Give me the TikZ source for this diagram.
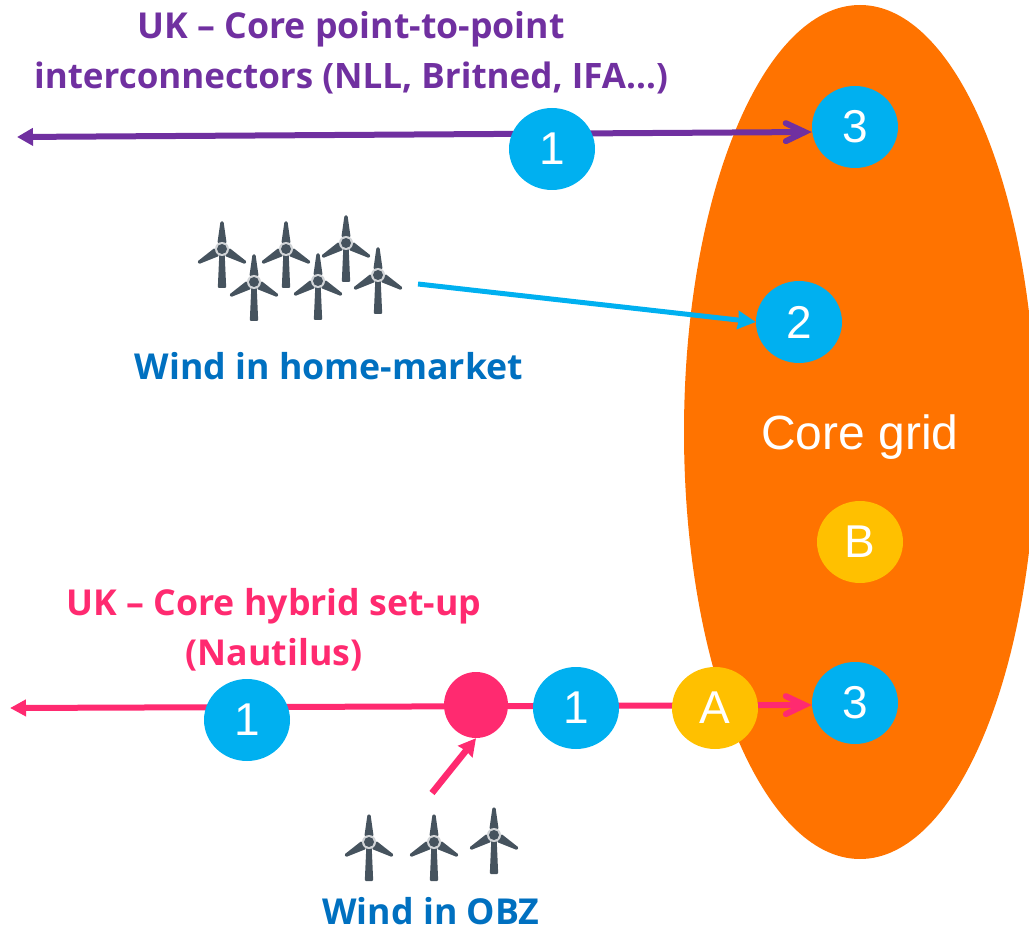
\documentclass[tikz,border=0pt]{standalone}
\usepackage{fontspec}
\setmainfont{Liberation Sans}
\newfontfamily\headfont{Open Sans}
\usetikzlibrary{arrows.meta,shapes.geometric}
\definecolor{cOrange}{HTML}{FF7300}
\definecolor{cBlue}{HTML}{00B0F0}
\definecolor{cGold}{HTML}{FFC000}
\definecolor{cPink}{HTML}{FF2A70}
\definecolor{cPurple}{HTML}{7030A0}
\definecolor{cHead}{HTML}{0070C0}
\definecolor{cTurb}{HTML}{46535E}
\tikzset{
  x=1pt,y=-1pt,
  badge/.style={ellipse,inner sep=0pt,minimum width=86pt,minimum height=82pt,text=white,font=\fontsize{46}{46}\selectfont},
  bluebadge/.style={badge,fill=cBlue},
  goldbadge/.style={badge,fill=cGold},
  headtext/.style={font=\headfont\bfseries\fontsize{35.7}{50}\selectfont,align=center,inner sep=0pt},
  blade/.pic={
    \fill[cTurb,rounded corners=1pt] (-1.5,-27.5) -- (1.5,-27.5) -- (4.6,-6) -- (-4.6,-6) -- cycle;
  },
  turbine/.pic={
    \fill[cTurb,rounded corners=1pt] (-2.6,3) -- (2.6,3) -- (4.2,39) -- (-4.2,39) -- cycle;
    \pic {blade};
    \pic[rotate=120] {blade};
    \pic[rotate=-120] {blade};
    \fill[cTurb!25] (0,0) circle (7);
    \fill[cTurb] (0,0) circle (5);
  }
}
\begin{document}
\begin{tikzpicture}
\useasboundingbox (0,0) rectangle (1029,928);
\begin{scope}
\clip (0,0) rectangle (1029,928);
\node[ellipse,fill=cOrange,inner sep=0pt,minimum width=352pt,minimum height=854pt] (core) at (860,432) {};
\end{scope}
\node[text=white,font=\fontsize{48}{48}\selectfont,inner sep=0pt] (coretxt) at (860,437) {Core grid};

\node[headtext,text=cPurple] (t1) at (351,53) {UK – Core point-to-point\\{\fontsize{35}{50}\selectfont interconnectors (NLL, Britned, IFA…)}};
\node[headtext,text=cHead] (t2) at (329,366) {Wind in home-market};
\node[headtext,text=cPink] (t3) at (274,630) {UK – Core hybrid set-up\\(Nautilus)};
\node[headtext,text=cHead] (t4) at (431,911) {Wind in OBZ};

\coordinate (pl) at (17,137);
\coordinate (bs) at (418,284);
\coordinate (kl) at (10,708);
\coordinate (ws) at (432,793);

\node[bluebadge] (p3) at (855,127) {3};
\node[bluebadge] (h2) at (799,322) {2};
\node[bluebadge] (k3) at (855,703) {3};

\draw[cPurple,line width=6pt,{Stealth[length=16pt,width=17pt,inset=0pt]}-{Straight Barb[length=19pt,width=18pt,line cap=round]}] (pl) -- ([yshift=-5pt]p3.west);
\draw[cBlue,line width=5pt,-{Stealth[length=18pt,width=18pt,inset=1pt]}] (bs) -- (h2.west);
\draw[cPink,line width=6pt,{Stealth[length=16pt,width=16pt,inset=0pt]}-{Straight Barb[length=19pt,width=18pt,line cap=round]}] (kl) -- ([yshift=-2pt]k3.west);

\node[bluebadge] (p1) at (552,149) {1};
\node[bluebadge] (k1) at (247,720) {1};
\node[bluebadge] (k2) at (576,708) {1};
\node[goldbadge] (a) at (715,708) {A};
\node[goldbadge] (b) at (860,542) {B};
\node[ellipse,fill=cPink,inner sep=0pt,minimum width=64pt,minimum height=66pt] (dot) at (476,705) {};
\draw[cPink,line width=6.5pt,-{Stealth[length=17pt,width=18pt,inset=1pt]}] (ws) -- (dot.south);

\foreach \n/\p in {a/{222,249},b/{254,282},c/{286,249},d/{318,281},e/{346,243},f/{378,275},g/{369,842},h/{434,842},i/{494,835}}
  \pic (tb\n) at (\p) {turbine};
\end{tikzpicture}
\end{document}
